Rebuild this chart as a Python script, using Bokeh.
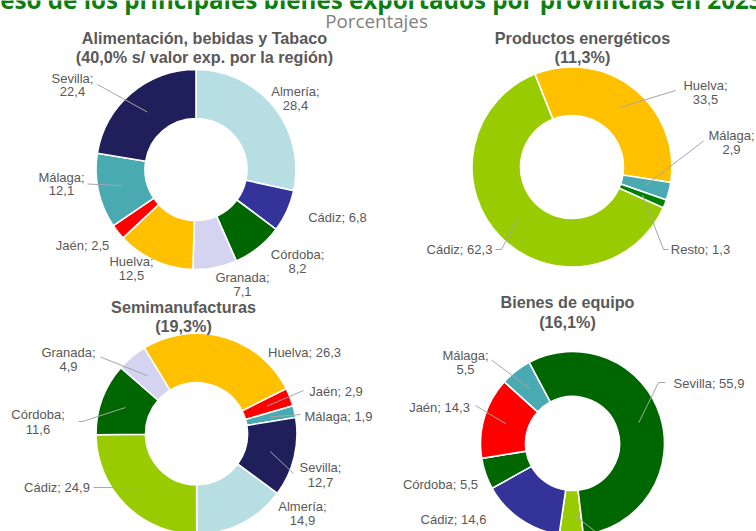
import numpy as np
from bokeh.plotting import figure
from bokeh.models import Range1d
from bokeh.core.properties import value
from bokeh.embed import file_html
from bokeh.resources import INLINE

# ---------------- data ----------------
main_title = "Peso de los principales bienes exportados por provincias en 2023"
subtitle = "Porcentajes"

alim_title = ["Alimentación, bebidas y Tabaco", "(40,0% s/ valor exp. por la región)"]
alim_cats = ["Almería", "Cádiz", "Córdoba", "Granada", "Huelva", "Jaén", "Málaga", "Sevilla"]
alim_vals = [28.4, 6.8, 8.2, 7.1, 12.5, 2.5, 12.1, 22.4]

ener_title = ["Productos energéticos", "(11,3%)"]
ener_cats = ["Cádiz", "Huelva", "Málaga", "Resto"]
ener_vals = [62.3, 33.5, 2.9, 1.3]

semi_title = ["Semimanufacturas", "(19,3%)"]
semi_cats = ["Almería", "Cádiz", "Córdoba", "Granada", "Huelva", "Jaén", "Málaga", "Sevilla"]
semi_vals = [14.9, 24.9, 11.6, 4.9, 26.3, 2.9, 1.9, 12.7]

equi_title = ["Bienes de equipo", "(16,1%)"]
equi_cats = ["Almería", "Cádiz", "Córdoba", "Jaén", "Málaga", "Sevilla"]
equi_vals = [4.2, 14.6, 5.5, 14.3, 5.5, 55.9]

# ---------------- styles / layout ----------------
C_ALM = "#B7DFE3"; C_BLUE = "#333399"; C_DKG = "#006600"; C_LAV = "#D4D4F0"
C_YEL = "#FFC000"; C_RED = "#FF0000"; C_TEAL = "#4AAAB2"; C_NAVY = "#1F1F5C"
C_LIME = "#99CC00"; C_GRN = "#008000"

W_REF, H_REF = 756, 531
TXT = "#595959"
LEAD = "#A6A6A6"


def Y(y):
    return H_REF - y


def fmt(v):
    return f"{v:.1f}".replace(".", ",")


charts = [
    dict(cats=alim_cats, vals=alim_vals, title=alim_title,
         colors=[C_ALM, C_BLUE, C_DKG, C_LAV, C_YEL, C_RED, C_TEAL, C_NAVY],
         c=(195.5, 169.0), rin=51, rout=100, start=0.0,
         tpos=(204, 37.5, 56),
         labels={"Almería": (295, [90.5, 104.5]), "Cádiz": (337, [217]),
                 "Córdoba": (297, [253.5, 268]), "Granada": (242, [277, 291]),
                 "Huelva": (131, [260.5, 275]), "Jaén": (82, [244.5]),
                 "Málaga": (61, [176.5, 190]), "Sevilla": (72, [77.7, 91.3])},
         leaders={"Sevilla": [(97, 84)], "Málaga": [(87, 183.5)]}),
    dict(cats=ener_cats, vals=ener_vals, title=ener_title,
         colors=[C_LIME, C_YEL, C_TEAL, C_GRN],
         c=(571.5, 166.5), rin=51.5, rout=100, start=114.0,
         tpos=(582, 37.5, 56),
         labels={"Huelva": (705, [85, 99]), "Málaga": (731, [134.5, 148.5]),
                 "Resto": (700, [249]), "Cádiz": (459, [249])},
         leaders={"Huelva": [(675, 90)], "Málaga": [(703, 140.5)],
                  "Resto": [(663, 249), (668, 249)],
                  "Cádiz": [(501, 249), (495, 249)]}),
    dict(cats=semi_cats, vals=semi_vals, title=semi_title,
         colors=[C_ALM, C_LIME, C_DKG, C_LAV, C_YEL, C_RED, C_TEAL, C_NAVY],
         c=(196.0, 433.3), rin=51, rout=100.5, start=126.3,
         tpos=(183, 306, 325),
         labels={"Granada": (68, [351.5, 365.5]), "Huelva": (304, [352]),
                 "Jaén": (335.5, [391]), "Málaga": (338, [416]),
                 "Sevilla": (320, [467, 481.5]), "Almería": (302, [506, 520]),
                 "Córdoba": (37.5, [414, 428.5]), "Cádiz": (56.5, [486.5])},
         leaders={"Granada": [(100, 356.5)], "Jaén": [(303, 390)],
                  "Málaga": [(300, 414)], "Sevilla": [(293, 473)],
                  "Córdoba": [(82, 421), (78, 421)], "Cádiz": [(93, 487)]}),
    dict(cats=equi_cats, vals=equi_vals, title=equi_title,
         colors=[C_LIME, C_BLUE, C_DKG, C_RED, C_TEAL, C_DKG],
         c=(572.0, 443.0), rin=47, rout=92, start=173.2,
         tpos=(567, 301, 321),
         labels={"Málaga": (465, [354.5, 368.5]), "Sevilla": (708.5, [383]),
                 "Jaén": (439, [407]), "Córdoba": (440, [484]),
                 "Cádiz": (453, [519])},
         leaders={"Málaga": [(491, 359.5)], "Sevilla": [(658, 382), (665, 382)],
                  "Jaén": [(475, 405)], "Almería": [(600, 535)]}),
]

# ---------------- figure ----------------
p = figure(width=W_REF, height=H_REF, x_range=Range1d(0, W_REF), y_range=Range1d(0, H_REF),
           output_backend="svg", toolbar_location=None, min_border=0,
           x_axis_location=None, y_axis_location=None, background_fill_color="white")
p.xgrid.visible = False
p.ygrid.visible = False
p.outline_line_color = None

lab_x, lab_y, lab_t = [], [], []
tit_x, tit_y, tit_t = [], [], []
lead_xs, lead_ys = [], []

for ch in charts:
    vals = np.array(ch["vals"], dtype=float)
    span = vals / vals.sum() * 360.0
    cum = np.cumsum(span)
    ta = ch["start"] + np.concatenate([[0.0], cum[:-1]])
    tb = ch["start"] + cum
    cx, cy = ch["c"]
    p.annular_wedge(x=cx, y=Y(cy), inner_radius=ch["rin"], outer_radius=ch["rout"],
                    start_angle=np.radians(90 - tb), end_angle=np.radians(90 - ta),
                    fill_color=ch["colors"], line_color="white", line_width=1.6)
    rm = (ch["rin"] + ch["rout"]) / 2.0
    for i, cat in enumerate(ch["cats"]):
        tm = np.radians((ta[i] + tb[i]) / 2.0)
        sx, sy = cx + rm * np.sin(tm), cy - rm * np.cos(tm)
        if cat in ch["leaders"]:
            pts = [(sx, sy)] + ch["leaders"][cat]
            lead_xs.append([q[0] for q in pts])
            lead_ys.append([Y(q[1]) for q in pts])
        if cat in ch["labels"]:
            lx, ys = ch["labels"][cat]
            if len(ys) == 2:
                lines = [f"{cat};", fmt(ch["vals"][i])]
            else:
                lines = [f"{cat}; {fmt(ch['vals'][i])}"]
            for t, yy in zip(lines, ys):
                lab_x.append(lx); lab_y.append(Y(yy)); lab_t.append(t)
    tx, ty1, ty2 = ch["tpos"]
    tit_x += [tx, tx]; tit_y += [Y(ty1), Y(ty2)]; tit_t += ch["title"]

p.multi_line(xs=lead_xs, ys=lead_ys, line_color=LEAD, line_width=1)

p.text(x=lab_x, y=lab_y, text=lab_t, text_align="center", text_baseline="middle",
       text_font=value("Liberation Sans"), text_font_size="13px", text_color=TXT)
p.text(x=tit_x, y=tit_y, text=tit_t, text_align="center", text_baseline="middle",
       text_font=value("Liberation Sans"), text_font_size="16.2px", text_font_style="bold",
       text_color=TXT)
p.text(x=[376], y=[Y(20.5)], text=[subtitle], text_align="center", text_baseline="middle",
       text_font=value("Open Sans"), text_font_size="18.8px", text_color="#7F7F7F")
p.text(x=[-15.5], y=[Y(-1.0)], text=[main_title], text_align="left", text_baseline="alphabetic",
       text_font=value("Open Sans"), text_font_size="24.2px", text_font_style="bold",
       text_color="#0E7E10")

open("out.html", "w").write(file_html(p, INLINE))
